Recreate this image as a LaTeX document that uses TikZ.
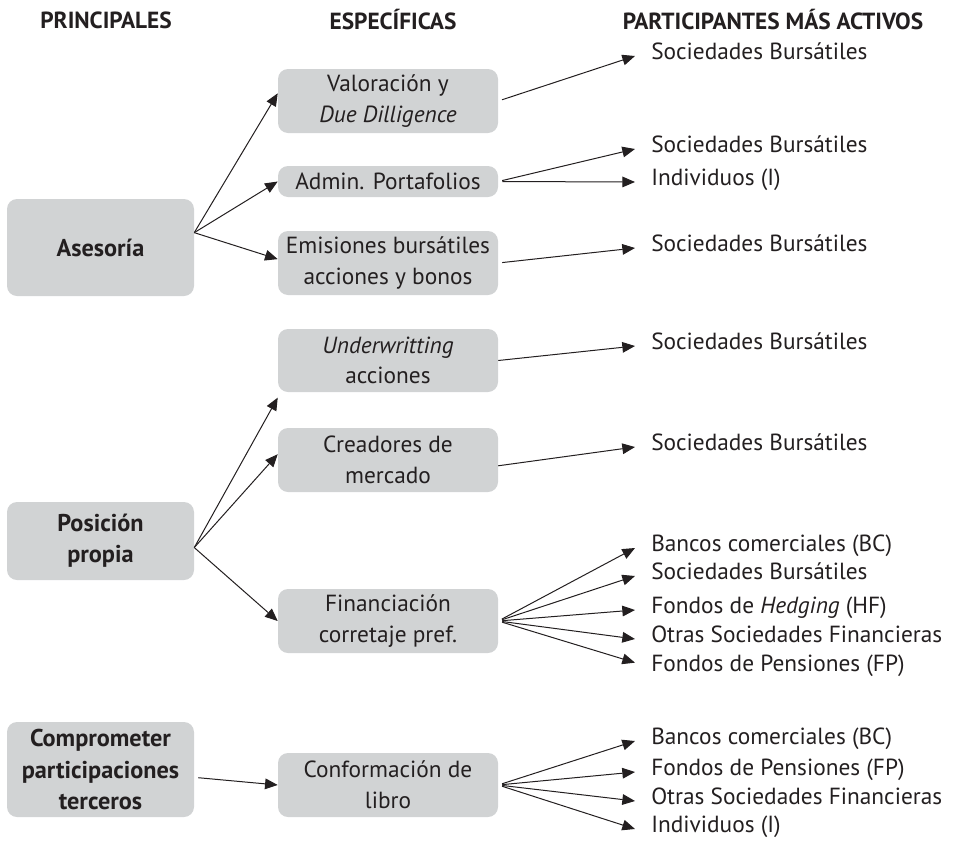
\documentclass[tikz,border=0pt]{standalone}
\usepackage{fontspec}
\setmainfont{PT Sans}
\usetikzlibrary{arrows.meta}
\definecolor{boxgray}{RGB}{209,211,212}
\definecolor{ink}{RGB}{35,31,32}
\begin{document}
\begin{tikzpicture}[x=0.75pt, y=-0.75pt, ink, font=\fontsize{17.5}{23}\selectfont,
        box/.style = {fill=boxgray, rounded corners=7.5pt, align=center, inner sep=2pt},
        prin/.style = {box, minimum width=140.25pt, font=\fontsize{18.2}{23.5}\selectfont\bfseries},
        espec/.style = {box, minimum width=165pt},
        part/.style = {anchor=west, inner xsep=12pt, inner ysep=0pt, text height=0.7em, text depth=0.2em},
        head/.style = {font=\fontsize{17.5}{20}\selectfont\bfseries},
        arr/.style = {-{Triangle[length=9.5pt,width=8pt]}, line width=0.75pt}]
        \useasboundingbox (0,0) rectangle (954,850);
        % column titles
        \node[head] (h1) at (106,20) {PRINCIPALES};
        \node[head] (h2) at (393,20) {ESPECÍFICAS};
        \node[head] (h3) at (773,20) {PARTICIPANTES MÁS ACTIVOS};
        % principales
        \node[prin, minimum height=72.75pt] (ases) at (100.5,247.5) {Asesoría};
        \node[prin, minimum height=58.5pt] (pos) at (100.5,541) {Posición\\propia};
        \node[prin, minimum height=71.25pt] (comp) at (100.5,769.5) {Comprometer\\participaciones\\terceros};
        % especificas
        \node[espec, minimum height=48pt] (val) at (388,101) {Valoración y\\\textit{Due Dilligence}};
        \node[espec, minimum height=23.25pt] (adm) at (388,181.5) {Admin. Portafolios};
        \node[espec, minimum height=48pt] (emi) at (388,263) {Emisiones bursátiles\\acciones y bonos};
        \node[espec, minimum height=47.25pt] (und) at (388,360.5) {\textit{Underwritting}\\acciones};
        \node[espec, minimum height=48pt] (cre) at (388,460) {Creadores de\\mercado};
        \node[espec, minimum height=48pt] (fin) at (388,621) {Financiación\\corretaje pref.};
        \node[espec, minimum height=48pt] (conf) at (388,785) {Conformación de\\libro};
        % participantes
        \node[part] (sb1) at (635,56) {Sociedades Bursátiles};
        \node[part] (sb2) at (635,149) {Sociedades Bursátiles};
        \node[part] (ind1) at (635,182) {Individuos (I)};
        \node[part] (sb3) at (635,248) {Sociedades Bursátiles};
        \node[part] (sb4) at (635,346) {Sociedades Bursátiles};
        \node[part] (sb5) at (635,447) {Sociedades Bursátiles};
        \node[part] (bc1) at (635,548) {Bancos comerciales (BC)};
        \node[part] (sb6) at (635,576) {Sociedades Bursátiles};
        \node[part] (hf1) at (635,610) {Fondos de \textit{Hedging} (HF)};
        \node[part] (osf1) at (635,639) {Otras Sociedades Financieras};
        \node[part] (fp1) at (635,668) {Fondos de Pensiones (FP)};
        \node[part] (bc2) at (635,741) {Bancos comerciales (BC)};
        \node[part] (fp2) at (635,772) {Fondos de Pensiones (FP)};
        \node[part] (osf2) at (635,801) {Otras Sociedades Financieras};
        \node[part] (ind2) at (635,829) {Individuos (I)};
        % principales -> especificas
        \draw[arr] (ases.9) to (val.176);
        \draw[arr] (ases.9) to (adm.west);
        \draw[arr] (ases.9) to (emi.178);
        \draw[arr] (pos.-4) to ([yshift=-4pt]und.south west);
        \draw[arr] (pos.-4) to (cre.177);
        \draw[arr] (pos.-4) to (fin.west);
        \draw[arr] ([xshift=3pt]comp.-5) to (conf.west);
        % especificas -> participantes
        \draw[arr, shorten <=3pt] (val.east) to (sb1.west);
        \draw[arr, shorten <=3pt] (adm.east) to (sb2.west);
        \draw[arr, shorten <=3pt] (adm.east) to (ind1.west);
        \draw[arr, shorten <=3pt] (emi.east) to (sb3.west);
        \draw[arr] (und.east) to (sb4.west);
        \draw[arr] (cre.-3) to (sb5.west);
        \draw[arr, shorten <=3pt] (fin.east) to (bc1.west);
        \draw[arr, shorten <=3pt] (fin.east) to (sb6.west);
        \draw[arr, shorten <=3pt] (fin.east) to (hf1.west);
        \draw[arr, shorten <=3pt] (fin.east) to (osf1.west);
        \draw[arr, shorten <=3pt] (fin.east) to ([yshift=4pt]fp1.west);
        \draw[arr, shorten <=3pt] (conf.east) to (bc2.west);
        \draw[arr, shorten <=3pt] (conf.east) to (fp2.west);
        \draw[arr, shorten <=3pt] (conf.east) to (osf2.west);
        \draw[arr, shorten <=3pt] (conf.east) to (ind2.west);
    \end{tikzpicture}
\end{document}
